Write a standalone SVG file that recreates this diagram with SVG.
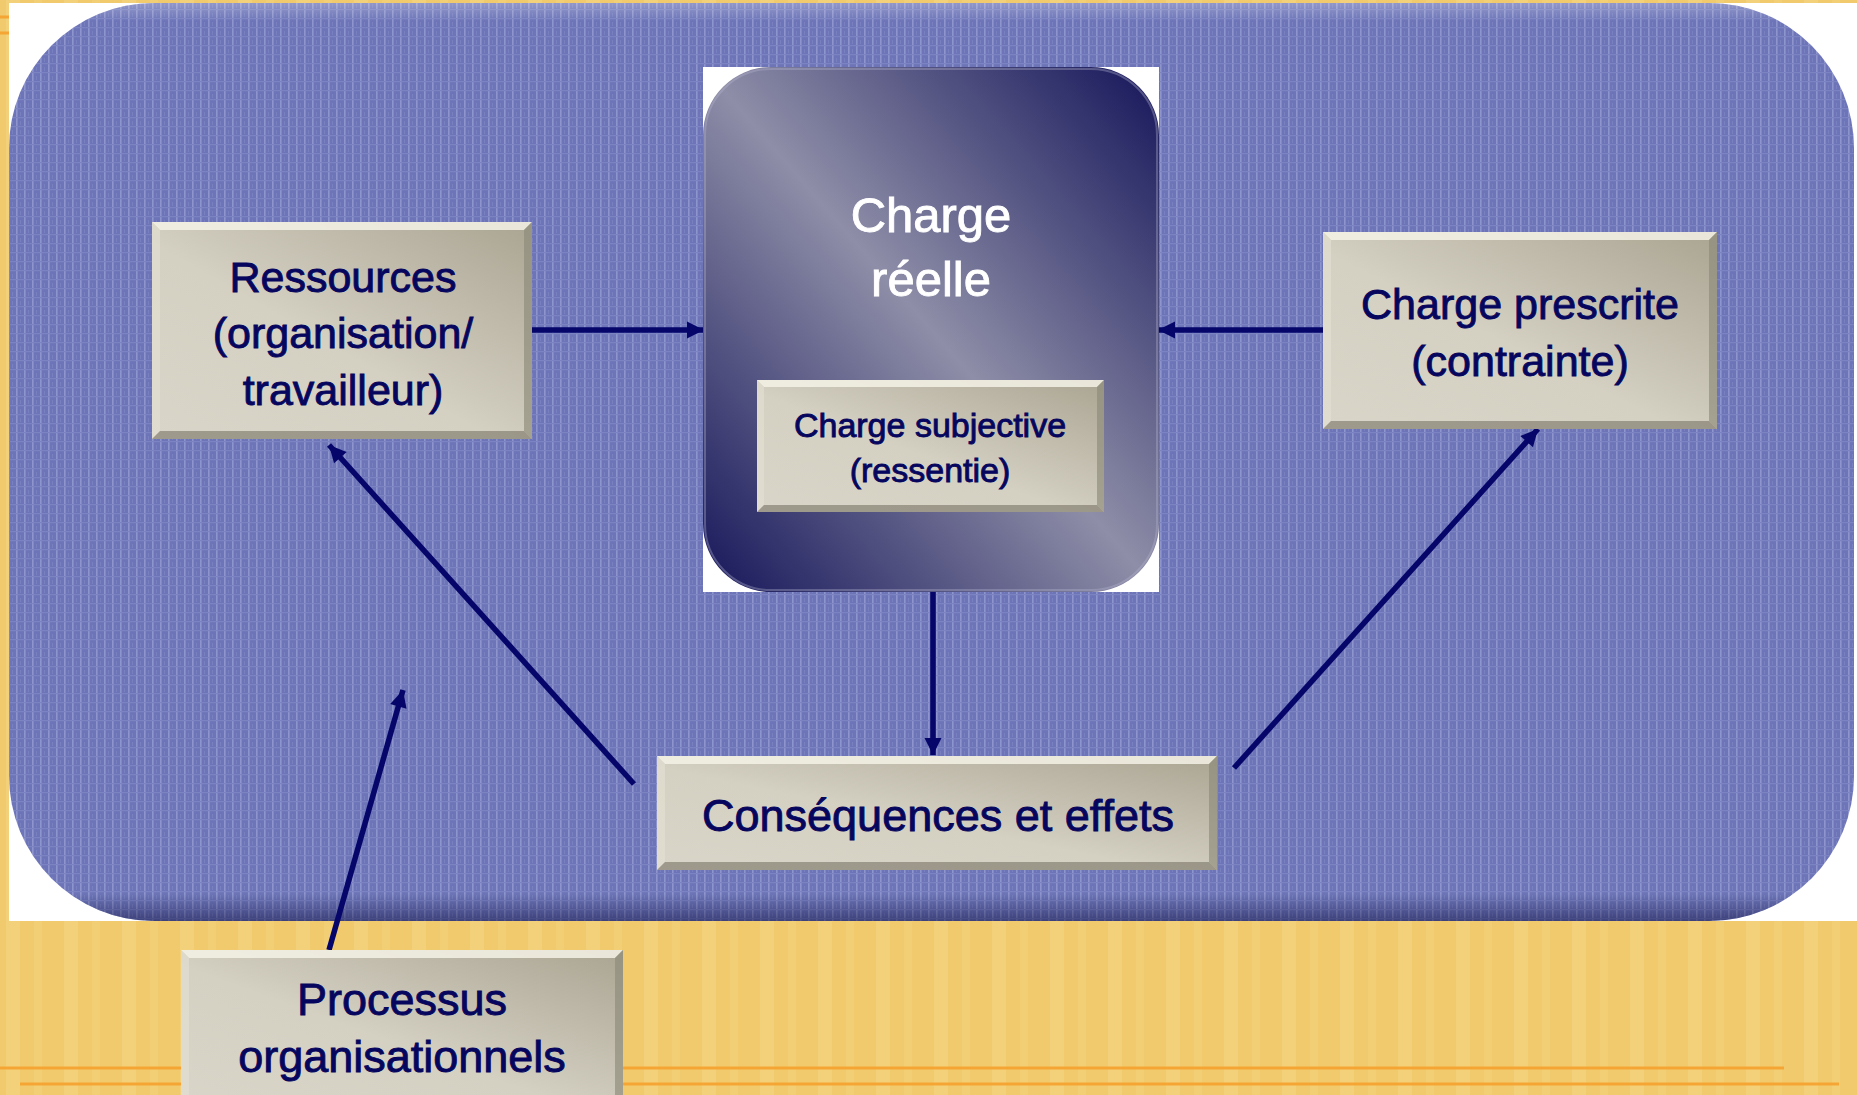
<svg xmlns="http://www.w3.org/2000/svg" width="1857" height="1095" viewBox="0 0 1857 1095">
<style>
.lbl{font-family:"Liberation Sans",Arial,sans-serif;fill:#06065e;stroke:#06065e;stroke-width:0.9;text-anchor:middle}
.ttl{font-family:"Liberation Sans",Arial,sans-serif;fill:#ffffff;stroke:#ffffff;stroke-width:0.9;text-anchor:middle}
.bt{fill:#f4f2e6;opacity:.85}
.bl{fill:#e4e1d3;opacity:.6}
.br{fill:#8e8a7a;opacity:.65}
.bb{fill:#7e7a6c;opacity:.65}
.box{fill:url(#beige)}
.conn{stroke:#05056a;stroke-width:5.5;fill:none;marker-end:url(#ah)}
.orl{stroke:#f5a533;stroke-width:3}
</style>
<defs>
<pattern id="ystripe" patternUnits="userSpaceOnUse" width="58" height="1095">
<rect width="58" height="1095" fill="#f0ca6c"/>
<rect x="6" width="14" height="1095" fill="#f5d585" opacity=".6"/>
<rect x="34" width="8" height="1095" fill="#f3d17e" opacity=".5"/>
</pattern>
<pattern id="blue" patternUnits="userSpaceOnUse" width="8" height="9">
<rect width="8" height="9" fill="#6d75b8"/>
<rect x="0" y="0" width="1.6" height="9" fill="#8e95cd"/>
<rect x="0" y="0" width="8" height="1.2" fill="#7b83c2"/>
<rect x="4" y="4" width="1" height="4" fill="#7880bf"/>
</pattern>
<linearGradient id="beige" x1="0" y1="1" x2="1" y2="0">
<stop offset="0" stop-color="#d9d5c8"/>
<stop offset="0.45" stop-color="#d4d0c2"/>
<stop offset="1" stop-color="#aaa492"/>
</linearGradient>
<linearGradient id="navy" x1="0" y1="1" x2="1" y2="0">
<stop offset="0" stop-color="#16165a"/>
<stop offset="0.5" stop-color="#8e8ea8"/>
<stop offset="1" stop-color="#15155a"/>
</linearGradient>
<linearGradient id="bshade" x1="0" y1="0" x2="0" y2="1">
<stop offset="0" stop-color="#ffffff" stop-opacity=".25"/>
<stop offset="0.02" stop-color="#ffffff" stop-opacity="0"/>
<stop offset="0.97" stop-color="#000030" stop-opacity="0"/>
<stop offset="1" stop-color="#000030" stop-opacity=".45"/>
</linearGradient>
<marker id="ah" markerUnits="userSpaceOnUse" markerWidth="20" markerHeight="20" viewBox="0 0 20 20" refX="18" refY="10" orient="auto">
<path d="M1,1.5 L18,10 L1,18.5 Z" fill="#05056a"/>
</marker>
</defs>

<g id="background">
<rect width="1857" height="1095" fill="url(#ystripe)"/>
<line class="orl" x1="0" y1="17" x2="10" y2="17"/>
<line class="orl" x1="0" y1="33" x2="10" y2="33"/>
<line class="orl" x1="0" y1="1068" x2="1784" y2="1068"/>
<line class="orl" x1="20" y1="1084" x2="1839" y2="1084"/>
<rect x="9" y="3" width="1848" height="918" fill="#ffffff"/>
<rect x="9" y="3" width="1845" height="918" rx="145" ry="145" fill="url(#blue)"/>
<rect x="9" y="3" width="1845" height="918" rx="145" ry="145" fill="url(#bshade)"/>
</g>

<g id="connectors">
<line class="conn" x1="532" y1="330" x2="704" y2="330"/>
<line class="conn" x1="1323" y1="330" x2="1158" y2="330"/>
<line class="conn" x1="933" y1="592" x2="933" y2="755"/>
<line class="conn" x1="634" y1="784" x2="329" y2="445"/>
<line class="conn" x1="1234" y1="768" x2="1538" y2="429"/>
<line class="conn" x1="329" y1="950" x2="403" y2="690"/>
</g>

<g id="node-charge-reelle">
<rect x="703" y="67" width="456" height="525" fill="#ffffff"/>
<rect x="703" y="67" width="456" height="525" rx="68" ry="68" fill="url(#navy)"/>
<rect x="705" y="69" width="452" height="521" rx="66" ry="66" fill="none" stroke="#b8b8d0" stroke-opacity=".35" stroke-width="2"/>
<text class="ttl" x="931" y="232" font-size="49">Charge</text>
<text class="ttl" x="931" y="296" font-size="49">réelle</text>
</g>

<g id="node-ressources">
<rect class="box" x="152" y="222" width="380" height="217"/>
<polygon class="bt" points="152,222 532,222 524,230 160,230"/>
<polygon class="bl" points="152,222 160,230 160,431 152,439"/>
<polygon class="br" points="532,222 532,439 524,431 524,230"/>
<polygon class="bb" points="152,439 532,439 524,431 160,431"/>
<text class="lbl" x="343" y="292" font-size="43">Ressources</text>
<text class="lbl" x="343" y="348" font-size="43">(organisation/</text>
<text class="lbl" x="343" y="405" font-size="43">travailleur)</text>
</g>

<g id="node-charge-prescrite">
<rect class="box" x="1323" y="232" width="394" height="197"/>
<polygon class="bt" points="1323,232 1717,232 1709,240 1331,240"/>
<polygon class="bl" points="1323,232 1331,240 1331,421 1323,429"/>
<polygon class="br" points="1717,232 1717,429 1709,421 1709,240"/>
<polygon class="bb" points="1323,429 1717,429 1709,421 1331,421"/>
<text class="lbl" x="1520" y="319" font-size="43">Charge prescrite</text>
<text class="lbl" x="1520" y="376" font-size="43">(contrainte)</text>
</g>

<g id="node-charge-subjective">
<rect class="box" x="757" y="380" width="347" height="132"/>
<polygon class="bt" points="757,380 1104,380 1097,387 764,387"/>
<polygon class="bl" points="757,380 764,387 764,505 757,512"/>
<polygon class="br" points="1104,380 1104,512 1097,505 1097,387"/>
<polygon class="bb" points="757,512 1104,512 1097,505 764,505"/>
<text class="lbl" x="930" y="437" font-size="34">Charge subjective</text>
<text class="lbl" x="930" y="482" font-size="34">(ressentie)</text>
</g>

<g id="node-consequences">
<rect class="box" x="657" y="756" width="560" height="114"/>
<polygon class="bt" points="657,756 1217,756 1209,764 665,764"/>
<polygon class="bl" points="657,756 665,764 665,862 657,870"/>
<polygon class="br" points="1217,756 1217,870 1209,862 1209,764"/>
<polygon class="bb" points="657,870 1217,870 1209,862 665,862"/>
<text class="lbl" x="938" y="831" font-size="45">Conséquences et effets</text>
</g>

<g id="node-processus">
<rect class="box" x="181" y="950" width="442" height="160"/>
<polygon class="bt" points="181,950 623,950 615,958 189,958"/>
<polygon class="bl" points="181,950 189,958 189,1102 181,1110"/>
<polygon class="br" points="623,950 623,1110 615,1102 615,958"/>
<text class="lbl" x="402" y="1015" font-size="45">Processus</text>
<text class="lbl" x="402" y="1072" font-size="45">organisationnels</text>
</g>
</svg>
